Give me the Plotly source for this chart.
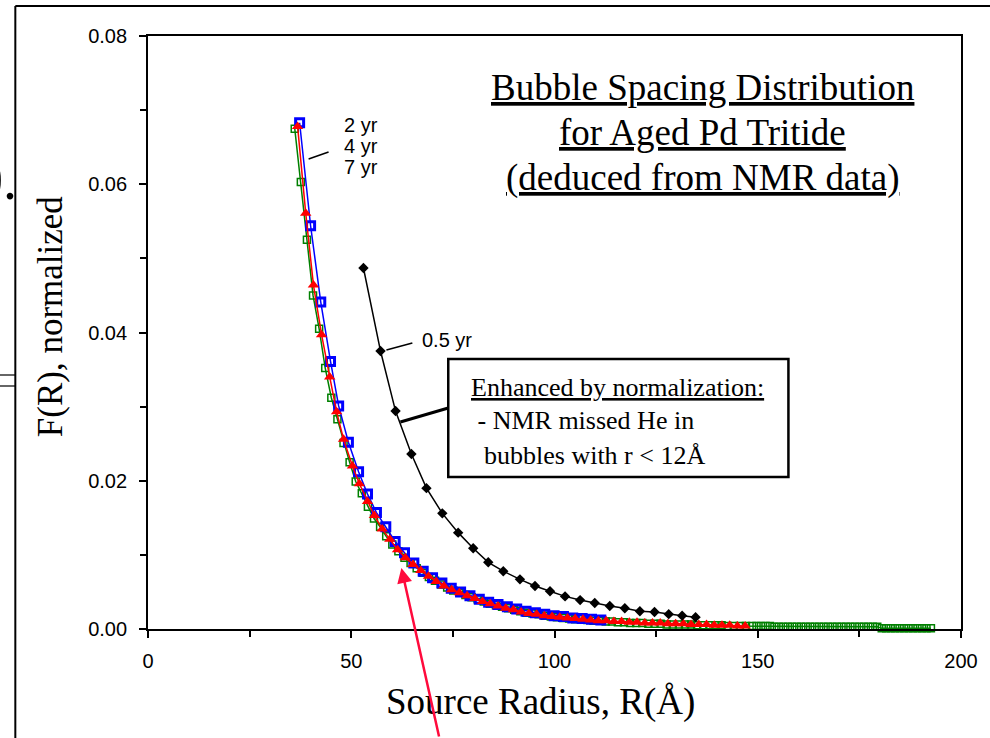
import plotly.graph_objects as go

# ---------------- data ----------------
x_05yr = [53.0, 57.2, 60.9, 64.8, 68.5, 72.4, 76.3, 80.0, 83.7, 87.4, 91.5, 95.2,
          98.9, 102.6, 106.3, 109.9, 113.6, 117.3, 121.0, 124.6, 128.1, 131.4, 134.7]
y_05yr = [0.0487, 0.0375, 0.0294, 0.0236, 0.0190, 0.0156, 0.0130, 0.0109, 0.0090, 0.0078,
          0.0067, 0.0058, 0.0051, 0.0044, 0.0039, 0.0035, 0.0031, 0.0028, 0.0024, 0.0023,
          0.0020, 0.0018, 0.0016]

x_blue = [37.3, 40.0, 42.5, 44.9, 46.9, 49.3, 51.8, 54.0, 56.2, 58.5, 60.8, 63.1, 65.4,
          67.7, 70.0, 72.3, 74.6, 76.9, 79.2, 81.5, 83.8, 86.1, 88.4, 90.7, 93.0, 95.3,
          97.6, 99.9, 102.2, 104.5, 106.8, 109.1, 111.4]
y_blue = [0.0683, 0.0544, 0.0441, 0.0361, 0.0301, 0.0252, 0.0212, 0.0182, 0.0157, 0.0138,
          0.0118, 0.0103, 0.0089, 0.0078, 0.0069, 0.0062, 0.0055, 0.0050, 0.0045, 0.0040,
          0.0036, 0.0033, 0.0030, 0.0027, 0.0024, 0.0022, 0.0020, 0.0018, 0.0017, 0.0015,
          0.0014, 0.0013, 0.0012]

x_red = [36.8, 38.8, 40.7, 42.7, 44.7, 46.4, 48.1, 50.3, 52.0, 54.0, 55.7, 57.6, 59.5,
         61.4, 63.3, 65.2, 67.1, 69.0, 70.9, 72.8, 74.7, 76.6, 78.5, 80.4, 82.3, 84.2,
         86.1, 88.0, 89.9, 91.8, 93.7, 95.6, 97.5, 99.4, 101.3, 103.2, 105.1, 107.0,
         108.9, 110.8, 112.7, 114.6, 116.5, 118.4, 120.3, 122.2, 124.1, 126.0, 127.9,
         129.8, 131.7, 133.6, 135.5, 137.4, 139.3, 141.2, 143.1, 145.0, 146.9]
y_red = [0.0678, 0.0561, 0.0464, 0.0397, 0.0340, 0.0293, 0.0256, 0.0220, 0.0196, 0.0172,
         0.0153, 0.0135, 0.0121, 0.0107, 0.0096, 0.0087, 0.0079, 0.0071, 0.0064, 0.0058,
         0.0053, 0.0049, 0.0045, 0.0041, 0.0037, 0.0034, 0.0031, 0.0028, 0.0026, 0.0023,
         0.0021, 0.0020, 0.0018, 0.0017, 0.0016, 0.0015, 0.0014, 0.0013, 0.0012, 0.0011,
         0.0011, 0.0010, 0.0010, 0.0009, 0.0009, 0.0008, 0.0008, 0.0008, 0.0007, 0.0007,
         0.0007, 0.0006, 0.0006, 0.0006, 0.0005, 0.0005, 0.0005, 0.0004, 0.0004]

x_green = [36.1, 37.6, 39.1, 40.6, 42.1, 43.6, 45.1, 46.6, 48.1, 49.6,
           51.1, 52.6, 54.1, 55.6, 57.1, 58.6, 60.1, 61.6, 63.1, 64.6,
           66.1, 67.6, 69.1, 70.6, 72.1, 73.6, 75.1, 76.6, 78.1, 79.6,
           81.1, 82.6, 84.1, 85.6, 87.1, 88.6, 90.1, 91.6, 93.1, 94.6,
           96.1, 97.6, 99.1, 100.6, 102.1, 103.6, 105.1, 106.6, 108.1, 109.6,
           111.1, 112.6, 114.1, 115.6, 117.1, 118.6, 120.1, 121.6, 123.1, 124.6,
           126.1, 127.6, 129.1, 130.6, 132.1, 133.6, 135.1, 136.6, 138.1, 139.6,
           141.1, 142.6, 144.1, 145.6, 147.1, 148.6,
           149.7, 150.8, 151.9, 153.0,
           154.1, 155.2, 156.3, 157.4, 158.5, 159.6, 160.7, 161.8, 162.9, 164.0,
           165.1, 166.2, 167.3, 168.4, 169.5, 170.6, 171.7, 172.8, 173.9, 175.0,
           176.1, 177.2, 178.3, 179.4,
           180.5, 181.6, 182.7, 183.8, 184.9, 186.0, 187.1, 188.2, 189.3, 190.4,
           191.5, 192.6]
y_green = [0.0675, 0.0603, 0.0525, 0.0450, 0.0405, 0.0352, 0.0312, 0.0283, 0.0251, 0.0225,
           0.0199, 0.0183, 0.0165, 0.0149, 0.0138, 0.0125, 0.0114, 0.0105, 0.0096, 0.0089,
           0.0082, 0.0076, 0.0070, 0.0065, 0.0060, 0.0056, 0.0052, 0.0049, 0.0046, 0.0043,
           0.0040, 0.0037, 0.0034, 0.0032, 0.0030, 0.0028, 0.0026, 0.0024, 0.0022, 0.0021,
           0.0020, 0.0018, 0.0017, 0.0016, 0.0015, 0.0014, 0.0013, 0.0013, 0.0012, 0.0011,
           0.0011, 0.0010, 0.0010, 0.0009, 0.0009, 0.0008, 0.0008, 0.0008, 0.0007, 0.0007,
           0.0007, 0.0006, 0.0006, 0.0006, 0.0006, 0.0006, 0.0005, 0.0005, 0.0005, 0.0005,
           0.0005, 0.0004, 0.0004, 0.0004, 0.0004, 0.0004,
           0.0004, 0.0004, 0.0004, 0.0004,
           0.0003, 0.0003, 0.0003, 0.0003, 0.0003, 0.0003, 0.0003, 0.0003, 0.0003, 0.0003,
           0.0003, 0.0003, 0.0003, 0.0003, 0.0003, 0.0003, 0.0003, 0.0003, 0.0003, 0.0003,
           0.0003, 0.0003, 0.0003, 0.0003,
           0.0001, 0.0001, 0.0001, 0.0001, 0.0001, 0.0001, 0.0001, 0.0001, 0.0001, 0.0001,
           0.0001, 0.0001]

x_ticks = [0, 50, 100, 150, 200]
y_ticks = [0.00, 0.02, 0.04, 0.06, 0.08]

title_lines = ["Bubble Spacing Distribution", "for Aged Pd Tritide", "(deduced from NMR data)"]
box_lines = ["Enhanced by normalization:", "\u00a0- NMR missed He in", "\u00a0\u00a0bubbles with r < 12\u00c5"]
age_labels = ["2 yr", "4 yr", "7 yr"]

# ---------------- layout helpers (pixel -> paper) ----------------
W, H = 990, 738
L, R, T, B = 148, 963, 36, 629
def px(x):
    return (x - L) / (R - L)
def py(y):
    return (B - y) / (B - T)

SERIF = "Liberation Serif, Times New Roman, serif"
SANS = "Liberation Sans, Arial, sans-serif"

fig = go.Figure()
fig.add_trace(go.Scatter(x=x_green, y=y_green, mode="lines+markers", cliponaxis=False,
                         line=dict(color="#008000", width=1.5),
                         marker=dict(symbol="square-open", size=7, color="#008000",
                                     line=dict(width=1.5))))
fig.add_trace(go.Scatter(x=x_blue, y=y_blue, mode="lines+markers", cliponaxis=False,
                         line=dict(color="#0000ff", width=1.5),
                         marker=dict(symbol="square-open", size=8, color="#0000ff",
                                     line=dict(width=3))))
fig.add_trace(go.Scatter(x=x_red, y=y_red, mode="lines+markers", cliponaxis=False,
                         line=dict(color="#ff0000", width=1.5),
                         marker=dict(symbol="triangle-up", size=10, color="#ff0000")))
fig.add_trace(go.Scatter(x=x_05yr, y=y_05yr, mode="lines+markers", cliponaxis=False,
                         line=dict(color="black", width=1.5),
                         marker=dict(symbol="diamond", size=8, color="black")))

shapes = []
def seg(x0, y0, x1, y1, w=1.5, color="black"):
    shapes.append(dict(type="line", xref="paper", yref="paper",
                       x0=px(x0), y0=py(y0), x1=px(x1), y1=py(y1),
                       line=dict(color=color, width=w)))

# slide frame pieces
seg(15, 6, 995, 6, 2)
seg(15, 6, 15, 745, 2)
seg(-5, 375, 15, 375, 1.2)
seg(-5, 386, 15, 386, 1.2)
# leader lines
seg(309, 159, 329, 152, 1.5)
seg(387, 350, 413, 343, 1.5)
seg(401, 422, 449, 408, 3)
# text box
shapes.append(dict(type="rect", xref="paper", yref="paper",
                   x0=px(449), y0=py(359), x1=px(790), y1=py(477),
                   line=dict(color="black", width=2.5), fillcolor="rgba(0,0,0,0)"))

ann = []
def text(x, y, s, size, font, xanchor="left", yanchor="middle", angle=0):
    ann.append(dict(x=px(x), y=py(y), xref="paper", yref="paper", text=s, showarrow=False,
                    xanchor=xanchor, yanchor=yanchor, textangle=angle,
                    font=dict(family=font, size=size, color="black")))

for i, s in enumerate(title_lines):
    text(704, [87, 132, 178][i], "<u>" + s + "</u>", 37, SERIF, xanchor="center")
for i, s in enumerate(box_lines):
    text(470, [387, 421, 455][i], ("<u>" + s + "</u>") if i == 0 else s, 26, SERIF)
for i, s in enumerate(age_labels):
    text(342, [125, 146, 167][i], s, 20, SANS)
text(421, 340, "0.5 yr", 20, SANS)
text(541, 702, "Source Radius, R(\u00c5)", 37, SERIF, xanchor="center")
text(50, 316, "F(R), normalized", 35, SERIF, xanchor="center", angle=-90)
text(19, 180, "0.", 56, SERIF, xanchor="right")

# red arrow
ann.append(dict(x=px(402), y=py(568), xref="paper", yref="paper", text="", showarrow=True,
                ax=440 - 402, ay=740 - 568, arrowhead=2, arrowsize=1.2, arrowwidth=2.5,
                arrowcolor="#ff0a3c", standoff=0))

axis_common = dict(showgrid=False, zeroline=False, showline=True, linecolor="black",
                   linewidth=1.8, mirror=True, ticks="outside", ticklen=7, tickwidth=1.5,
                   tickcolor="black", tickfont=dict(family=SANS, size=20, color="black"))

fig.update_layout(
    width=W, height=H, autosize=False,
    margin=dict(l=L, r=W - R, t=T, b=H - B, pad=0),
    paper_bgcolor="white", plot_bgcolor="white", showlegend=False,
    xaxis=dict(range=[0, 200], tickvals=x_ticks, ticktext=[str(v) for v in x_ticks],
               minor=dict(dtick=25, ticks="outside", ticklen=6, tickwidth=1.5,
                          tickcolor="black", showgrid=False),
               ticklabelstandoff=6, **axis_common),
    yaxis=dict(range=[0, 0.08], tickvals=y_ticks, ticktext=["%.2f" % v for v in y_ticks],
               minor=dict(dtick=0.01, ticks="outside", ticklen=6, tickwidth=1.5,
                          tickcolor="black", showgrid=False),
               ticklabelstandoff=8, **axis_common),
    shapes=shapes, annotations=ann,
)

fig.write_html("out.html")
